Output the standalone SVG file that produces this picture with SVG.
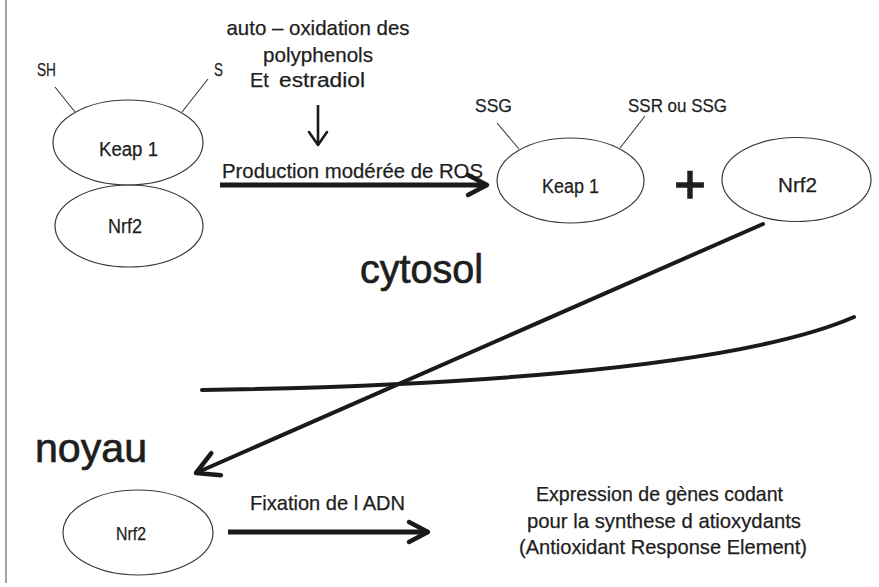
<svg xmlns="http://www.w3.org/2000/svg" width="879" height="587" viewBox="0 0 879 587">
<defs>
<style>
.t{font-family:"Liberation Sans",Arial,sans-serif;fill:#1e1e1e;stroke:#1e1e1e;stroke-width:0.25;}
.big{font-family:"Liberation Sans",Arial,sans-serif;fill:#1e1e1e;stroke:#1e1e1e;stroke-width:0.7;}
.node{fill:none;stroke:#3a3a3a;stroke-width:1.2;}
.tick{stroke:#3a3a3a;stroke-width:1.1;fill:none;}
.con{stroke:#1a1a1a;fill:none;}
</style>
<marker id="arr" markerUnits="userSpaceOnUse" viewBox="-26 -15 30 30" markerWidth="30" markerHeight="30" refX="0" refY="0" orient="auto" overflow="visible">
<path d="M-19,-10 L0,0 L-19,10" fill="none" stroke="#1a1a1a" stroke-width="4.5" stroke-linecap="round" stroke-linejoin="round"/>
</marker>
<marker id="arrL" markerUnits="userSpaceOnUse" viewBox="-26 -15 30 30" markerWidth="30" markerHeight="30" refX="0" refY="0" orient="auto" overflow="visible">
<path d="M-22,-12 L0,0 L-22,12" fill="none" stroke="#1a1a1a" stroke-width="4.5" stroke-linecap="round" stroke-linejoin="round"/>
</marker>
<marker id="arrS" markerUnits="userSpaceOnUse" viewBox="-16 -12 20 24" markerWidth="20" markerHeight="24" refX="0" refY="0" orient="auto" overflow="visible">
<path d="M-13,-9 L0,0 L-13,9" fill="none" stroke="#1a1a1a" stroke-width="2.6" stroke-linecap="round" stroke-linejoin="round"/>
</marker>
</defs>
<rect x="0" y="0" width="879" height="587" fill="#ffffff"/>
<line x1="6" y1="0" x2="6" y2="583" stroke="#8c8c84" stroke-width="1.6"/>

<g id="label-stimulus">
<text class="t" font-size="21" x="318" y="35" text-anchor="middle" textLength="183" lengthAdjust="spacingAndGlyphs">auto – oxidation des</text>
<text class="t" font-size="21" x="318" y="62" text-anchor="middle" textLength="110" lengthAdjust="spacingAndGlyphs">polyphenols</text>
<text class="t" font-size="20" y="87"><tspan x="250">Et</tspan><tspan x="279" textLength="86" lengthAdjust="spacingAndGlyphs">estradiol</tspan></text>
</g>

<g id="keap1-left">
<ellipse class="node" cx="128" cy="142.5" rx="75" ry="42.5"/>
<text class="t" font-size="20" x="99" y="156" textLength="59" lengthAdjust="spacingAndGlyphs">Keap 1</text>
<line class="tick" x1="55" y1="87" x2="75" y2="112"/>
<line class="tick" x1="208" y1="79" x2="182" y2="112"/>
<text class="t" font-size="19" x="37" y="76" textLength="19" lengthAdjust="spacingAndGlyphs">SH</text>
<text class="t" font-size="19" x="214" y="76" textLength="9" lengthAdjust="spacingAndGlyphs">S</text>
</g>

<g id="nrf2-left">
<ellipse class="node" cx="129" cy="226" rx="74" ry="41"/>
<text class="t" font-size="20" x="108" y="233" textLength="34" lengthAdjust="spacingAndGlyphs">Nrf2</text>
</g>

<g id="keap1-right">
<ellipse class="node" cx="570.5" cy="180.5" rx="73.5" ry="42.5"/>
<text class="t" font-size="20" x="542" y="193" textLength="57" lengthAdjust="spacingAndGlyphs">Keap 1</text>
<line class="tick" x1="497" y1="123" x2="519" y2="149"/>
<line class="tick" x1="645" y1="116" x2="620" y2="148"/>
<text class="t" font-size="19" x="475" y="112" textLength="37" lengthAdjust="spacingAndGlyphs">SSG</text>
<text class="t" font-size="19" x="628" y="112" textLength="99" lengthAdjust="spacingAndGlyphs">SSR ou SSG</text>
</g>

<g id="plus">
<text class="t" font-size="54" x="690" y="203" text-anchor="middle" style="stroke-width:1.6">+</text>
</g>

<g id="nrf2-right">
<ellipse class="node" cx="796.5" cy="179.5" rx="74.5" ry="42"/>
<text class="t" font-size="20" x="778" y="192" textLength="39" lengthAdjust="spacingAndGlyphs">Nrf2</text>
</g>

<g id="compartments">
<text class="big" font-size="41" x="360" y="283" textLength="123" lengthAdjust="spacingAndGlyphs">cytosol</text>
<text class="big" font-size="41" x="35" y="462" textLength="112" lengthAdjust="spacingAndGlyphs">noyau</text>
<path d="M202,390 C330,388 450,383 560,373 C680,362 790,345 854,317" stroke="#1a1a1a" stroke-width="4" fill="none" stroke-linecap="round"/>
</g>

<g id="nrf2-nucleus">
<ellipse class="node" cx="138" cy="532.5" rx="75" ry="42.5"/>
<text class="t" font-size="19" x="116" y="540" textLength="30" lengthAdjust="spacingAndGlyphs">Nrf2</text>
</g>

<g id="expression">
<text class="t" font-size="21" x="536" y="501" textLength="247" lengthAdjust="spacingAndGlyphs">Expression de gènes codant</text>
<text class="t" font-size="21" x="527" y="528" textLength="274" lengthAdjust="spacingAndGlyphs">pour la synthese d atioxydants</text>
<text class="t" font-size="21" x="519" y="554" textLength="288" lengthAdjust="spacingAndGlyphs">(Antioxidant Response Element)</text>
</g>

<g id="connectors">
<line class="con" x1="318" y1="105" x2="318" y2="145" stroke-width="2.6" marker-end="url(#arrS)"/>
<text class="t" font-size="21" x="222" y="178" textLength="261" lengthAdjust="spacingAndGlyphs">Production modérée de ROS</text>
<line class="con" x1="220" y1="185" x2="487" y2="185" stroke-width="5" marker-end="url(#arr)"/>
<line class="con" x1="763" y1="224" x2="196" y2="473" stroke-width="4" stroke-linecap="round" marker-end="url(#arrL)"/>
<text class="t" font-size="21" x="250" y="510" textLength="155" lengthAdjust="spacingAndGlyphs">Fixation de l ADN</text>
<line class="con" x1="228" y1="532" x2="428" y2="532" stroke-width="5" marker-end="url(#arr)"/>
</g>
</svg>
